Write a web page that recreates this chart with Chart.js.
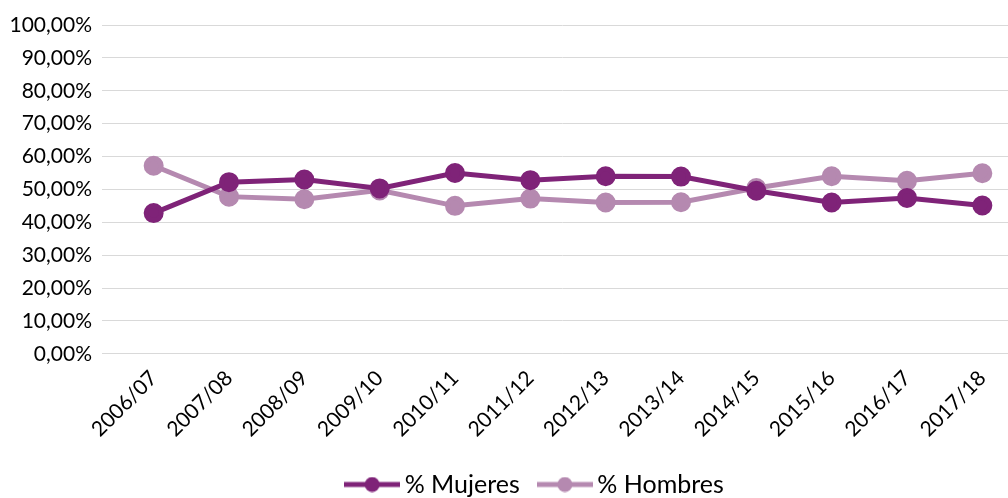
<!DOCTYPE html>
<html>
<head>
<meta charset="utf-8">
<script src="https://cdn.jsdelivr.net/npm/chart.js@4"></script>
<style>
  html, body { margin: 0; padding: 0; background: #fff; }
  #wrap { width: 1008px; height: 498px; }
</style>
</head>
<body>
<div id="wrap"><canvas id="grafico"></canvas></div>
<script>
const cursos = ['2006/07', '2007/08', '2008/09', '2009/10', '2010/11', '2011/12',
  '2012/13', '2013/14', '2014/15', '2015/16', '2016/17', '2017/18'];
const mujeres = [42.8, 52.2, 53.0, 50.3, 55.0, 52.8, 54.0, 53.9, 49.6, 46.0, 47.4, 45.1];
const hombres = [57.2, 47.8, 47.0, 49.7, 45.0, 47.2, 46.0, 46.1, 50.4, 54.0, 52.6, 54.9];

const corMujeres = '#7F2378';
const corHombres = '#B589B0';
const fonte = 'Lato, "Open Sans", sans-serif';
const espacoLegenda = 25;

// marcador da legenda: linha com bolinha
function marcador(cor) {
  const c = document.createElement('canvas');
  c.width = 56; c.height = 16;
  const g = c.getContext('2d');
  g.strokeStyle = cor; g.lineWidth = 5;
  g.beginPath(); g.moveTo(0, 8); g.lineTo(56, 8); g.stroke();
  g.fillStyle = cor;
  g.beginPath(); g.arc(28, 8, 7.5, 0, Math.PI * 2); g.fill();
  return c;
}

const ajustes = {
  id: 'ajustes',
  beforeLayout(chart) {
    // o espaço entre itens da legenda não deve roubar altura do gráfico
    const l = chart.legend;
    if (l && !l._ajustado) {
      const fitOriginal = l.fit.bind(l);
      l.fit = function () { fitOriginal(); this.height -= espacoLegenda; };
      l._ajustado = true;
    }
  },
  beforeDatasetsUpdate(chart) {
    // a área do gráfico passa um pouco da borda direita, como no original
    const s = chart.scales.x;
    s.right = chart.width + 12;
    s.width = s.right - s.left;
    s.configure();
    chart.chartArea.right = s.right;
    chart.chartArea.width = s.width;
  },
  beforeDraw(chart) {
    const l = chart.legend;
    l.top = 487 - espacoLegenda - 15;
    l.bottom = chart.height;
    l.height = l.bottom - l.top;
    l.left = 34;
    l.right = chart.width + 34;
  }
};

const ctx = document.getElementById('grafico').getContext('2d');
new Chart(ctx, {
  type: 'line',
  data: {
    labels: cursos,
    datasets: [
      {
        label: '% Mujeres',
        data: mujeres,
        borderColor: corMujeres,
        backgroundColor: corMujeres,
        borderWidth: 5,
        pointRadius: 7.5,
        pointHoverRadius: 7.5,
        tension: 0
      },
      {
        label: '% Hombres',
        data: hombres,
        borderColor: corHombres,
        backgroundColor: corHombres,
        borderWidth: 5,
        pointRadius: 7.5,
        pointHoverRadius: 7.5,
        tension: 0
      }
    ]
  },
  plugins: [ajustes],
  options: {
    responsive: true,
    maintainAspectRatio: false,
    animation: false,
    layout: { padding: { top: 25, right: 0, left: 0, bottom: 0 } },
    scales: {
      x: {
        offset: true,
        afterFit: s => { s.height += 9; },
        grid: { display: false, drawTicks: false },
        border: { color: '#d9d9d9', width: 1 },
        ticks: {
          color: '#000',
          minRotation: 45,
          maxRotation: 45,
          padding: 12,
          font: { family: fonte, size: 21 }
        }
      },
      y: {
        min: 0,
        max: 100,
        afterFit: s => { s.width = 116; },
        grid: { color: '#d9d9d9', lineWidth: 1, tickLength: 14, tickColor: '#d9d9d9' },
        border: { display: false },
        ticks: {
          stepSize: 10,
          color: '#000',
          padding: 10,
          font: { family: fonte, size: 21 },
          callback: v => v.toFixed(2).replace('.', ',') + '%'
        }
      }
    },
    plugins: {
      legend: {
        position: 'bottom',
        labels: {
          color: '#000',
          font: { family: fonte, size: 25, lineHeight: 1.2 },
          usePointStyle: true,
          pointStyleWidth: 40,
          padding: espacoLegenda,
          generateLabels: chart => chart.data.datasets.map((ds, i) => ({
            text: ds.label,
            pointStyle: marcador(ds.borderColor),
            fillStyle: ds.borderColor,
            strokeStyle: ds.borderColor,
            lineWidth: 0,
            fontColor: '#000',
            datasetIndex: i
          }))
        }
      },
      tooltip: { enabled: false }
    }
  }
});
</script>
</body>
</html>
